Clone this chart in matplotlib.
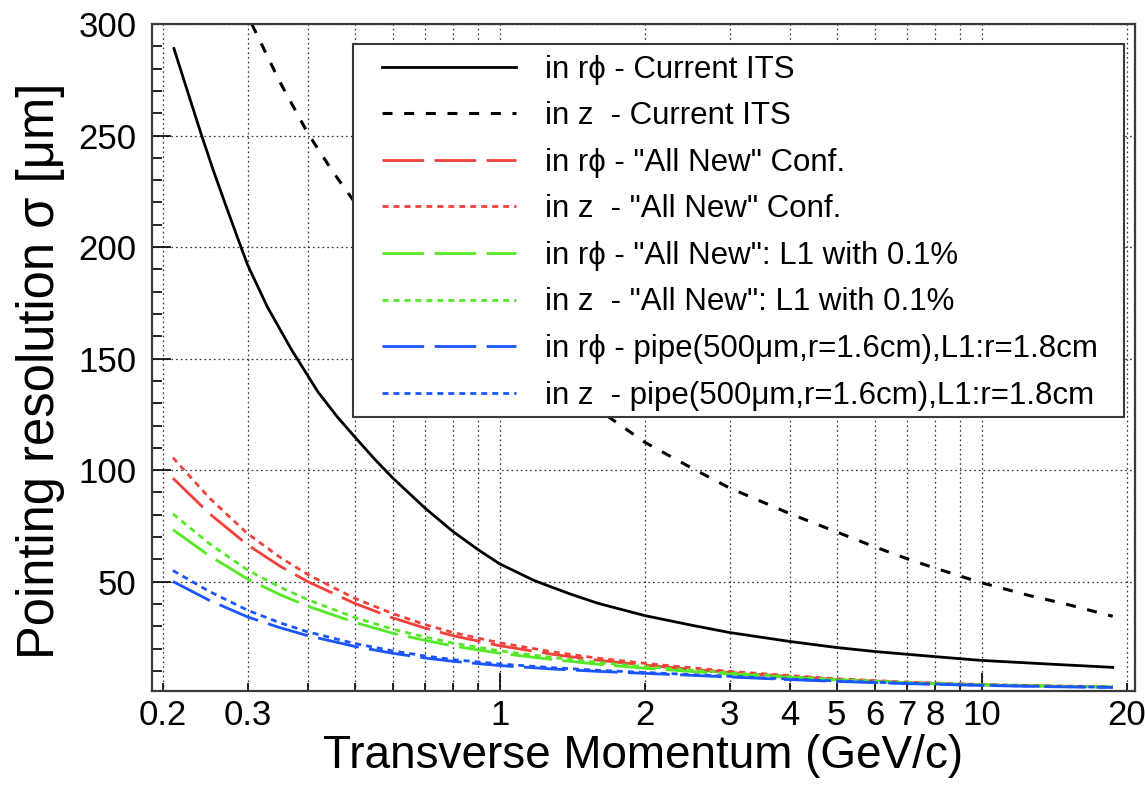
import matplotlib
matplotlib.use("Agg")
import matplotlib.pyplot as plt
from matplotlib.ticker import FixedLocator, FuncFormatter, MultipleLocator
from matplotlib.patches import Rectangle

plt.rcParams['font.family'] = ['Liberation Sans', 'DejaVu Sans']
plt.rcParams['lines.scale_dashes'] = False

# current ITS, r-phi and z
pt_its_rphi = [0.211, 0.225, 0.24, 0.255, 0.27, 0.285, 0.30, 0.33, 0.37, 0.42, 0.46, 0.50,
               0.55, 0.60, 0.70, 0.80, 0.90, 1.0, 1.18, 1.4, 1.6, 2.0, 2.5, 3.0, 4.0,
               5.0, 6.0, 8.0, 10.0, 14.0, 18.7]
sig_its_rphi = [289, 270, 251, 234, 219, 205, 192, 173, 154, 135, 124, 115,
                105, 96.5, 83, 72.5, 64.5, 58, 50.5, 44.5, 40.3, 34.8, 30.5, 27.2, 23.2,
                20.5, 18.7, 16.4, 14.7, 13.0, 11.6]

pt_its_z = [0.306, 0.35, 0.40, 0.45, 0.493, 0.6, 0.7, 0.85, 1.0, 1.3, 1.68, 2.0, 2.5,
            3.0, 4.0, 5.0, 6.0, 7.0, 8.0, 9.0, 10.0, 12.5, 15.0, 18.7]
sig_its_z = [300, 274, 251, 234, 222, 198, 182, 165, 152, 136, 124, 112.5, 101,
             92, 80.5, 72.3, 65.6, 60.3, 56.1, 52.6, 49.5, 43.9, 39.9, 34.5]

# upgrade scenarios share one pt grid
pt_new = [0.21, 0.25, 0.3, 0.35, 0.4, 0.5, 0.6, 0.7, 0.8, 1.0, 1.3, 1.6, 2.0, 3.0,
          4.0, 5.0, 7.0, 10.0, 14.0, 18.7]
sig_new_rphi = [96.4, 80.5, 66.5, 57.0, 50.0, 40.3, 33.8, 29.2, 25.8, 21.3, 17.3, 14.8,
                12.6, 9.3, 7.5, 6.2, 4.8, 3.8, 3.2, 2.8]
sig_new_z = [105.6, 87.5, 71.5, 61.0, 53.2, 42.6, 35.7, 30.8, 27.2, 22.6, 18.4, 15.7,
             13.4, 9.8, 7.9, 6.5, 5.0, 3.9, 3.3, 2.9]
sig_l1_rphi = [73.3, 61.6, 51.2, 44.2, 39.0, 31.8, 26.9, 23.7, 21.2, 17.9, 15.0, 13.0,
               11.2, 8.6, 7.0, 5.9, 4.6, 3.7, 3.1, 2.75]
sig_l1_z = [80.4, 67.0, 55.2, 47.6, 41.9, 34.0, 28.7, 25.2, 22.5, 19.0, 15.9, 13.8,
            11.9, 9.1, 7.4, 6.2, 4.8, 3.85, 3.2, 2.85]
sig_pipe_rphi = [50.1, 41.6, 34.2, 29.4, 25.8, 21.0, 17.9, 15.8, 14.3, 12.4, 10.8, 9.8,
                 8.9, 7.3, 6.1, 5.3, 4.3, 3.5, 2.9, 2.6]
sig_pipe_z = [55.0, 45.6, 37.2, 31.6, 27.5, 22.3, 19.0, 16.7, 15.1, 13.1, 11.4, 10.3,
              9.3, 7.6, 6.35, 5.5, 4.45, 3.6, 3.0, 2.7]

labels = [
    'in r\u03d5 - Current ITS',
    'in z  - Current ITS',
    'in r\u03d5 - "All New" Conf.',
    'in z  - "All New" Conf.',
    'in r\u03d5 - "All New": L1 with 0.1%',
    'in z  - "All New": L1 with 0.1%',
    'in r\u03d5 - pipe(500\u03bcm,r=1.6cm),L1:r=1.8cm',
    'in z  - pipe(500\u03bcm,r=1.6cm),L1:r=1.8cm',
]

red = '#f2403a'
green = '#55e826'
blue = '#1a55ff'
longdash = (0, (30, 7.5))
dots = (0, (4.3, 3.6))

fig = plt.figure(figsize=(11.45, 7.89), dpi=100)
ax = fig.add_axes([152 / 1145, 98 / 789, 983 / 1145, 667 / 789])
ax.set_xscale('log')
ax.set_xlim(0.19, 20.8)
ax.set_ylim(1, 300)

lines = []
lines += ax.plot(pt_its_rphi, sig_its_rphi, color='black', lw=2.0, ls='-')
lines += ax.plot(pt_its_z, sig_its_z, color='black', lw=2.2, ls=(0, (7.2, 8.4)))
lines += ax.plot(pt_new, sig_new_rphi, color=red, lw=2.0, ls=longdash)
lines += ax.plot(pt_new, sig_new_z, color=red, lw=2.0, ls=dots)
lines += ax.plot(pt_new, sig_l1_rphi, color=green, lw=2.0, ls=longdash)
lines += ax.plot(pt_new, sig_l1_z, color=green, lw=2.0, ls=dots)
lines += ax.plot(pt_new, sig_pipe_rphi, color=blue, lw=2.0, ls=longdash)
lines += ax.plot(pt_new, sig_pipe_z, color=blue, lw=2.0, ls=dots)

# x ticks: decades long, the rest short
ax.xaxis.set_major_locator(FixedLocator([1, 10]))
ax.xaxis.set_minor_locator(FixedLocator([0.2, 0.3, 0.4, 0.5, 0.6, 0.7, 0.8, 0.9,
                                         2, 3, 4, 5, 6, 7, 8, 9, 20]))
shown = {0.2: '0.2', 0.3: '0.3', 1: '1', 2: '2', 3: '3', 4: '4', 5: '5', 6: '6',
         7: '7', 8: '8', 10: '10', 20: '20'}


def xlab(v, pos):
    for k, s in shown.items():
        if abs(v - k) < 1e-6:
            return s
    return ''


ax.xaxis.set_major_formatter(FuncFormatter(xlab))
ax.xaxis.set_minor_formatter(FuncFormatter(xlab))
ax.yaxis.set_major_locator(FixedLocator([50, 100, 150, 200, 250, 300]))
ax.yaxis.set_minor_locator(MultipleLocator(10))

ax.tick_params(axis='x', which='both', direction='in', labelsize=25, pad=6, top=False)
ax.tick_params(axis='x', which='major', length=13, width=1.2)
ax.tick_params(axis='x', which='minor', length=6, width=1.2)
ax.tick_params(axis='y', which='both', direction='in', labelsize=25, pad=11, right=False)
ax.tick_params(axis='y', which='major', length=14, width=1.2)
ax.tick_params(axis='y', which='minor', length=7, width=1.2)

gridstyle = dict(color='#333333', lw=0.9, ls=(0, (1.2, 2.2)))
ax.grid(True, which='both', axis='x', **gridstyle)
ax.grid(True, which='major', axis='y', **gridstyle)
ax.set_axisbelow(True)

for sp in ax.spines.values():
    sp.set_color('#3a3a3a')
    sp.set_linewidth(1.6)

ax.set_xlabel('Transverse Momentum (GeV/c)', fontsize=33, labelpad=1)
ax.set_ylabel('Pointing resolution \u03c3 [\u03bcm]', fontsize=36.5)
ax.yaxis.set_label_coords(-0.088, 0.48)

# legend box
ax.add_patch(Rectangle((0.2045, 0.4108), 0.7843, 0.5592, transform=ax.transAxes,
                       facecolor='white', edgecolor='#3a3a3a', lw=1.5, zorder=5))
leg = ax.legend(lines, labels, loc='upper left', bbox_to_anchor=(0.234, 0.954),
                frameon=False, borderpad=0, borderaxespad=0, fontsize=22.5,
                handlelength=4.29, handletextpad=0.93, labelspacing=0.53)
leg.set_zorder(6)

fig.savefig('out.png', dpi=100)
